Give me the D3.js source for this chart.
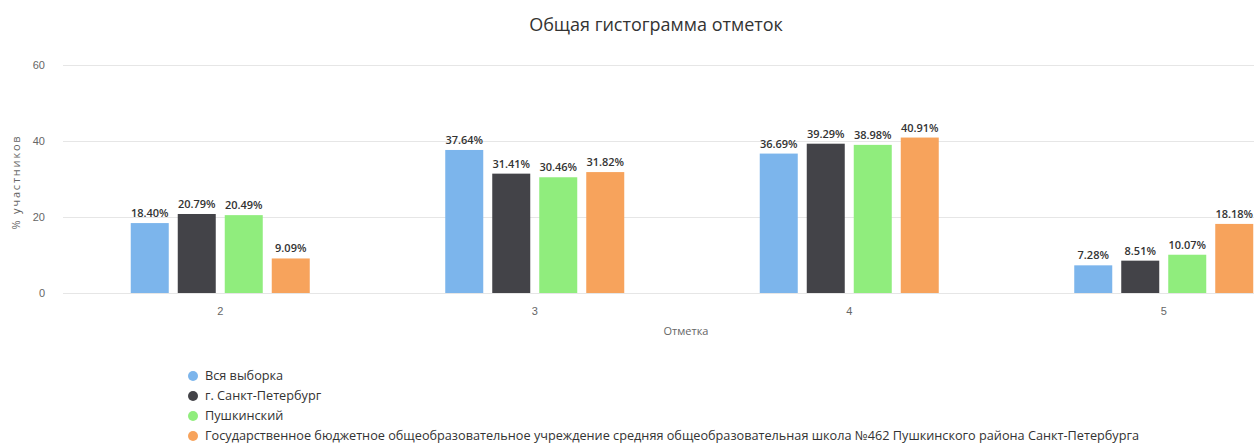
<!DOCTYPE html>
<html>
<head>
<meta charset="utf-8">
<script src="https://d3js.org/d3.v7.min.js"></script>
<style>
  body { margin: 0; background: #fff; }
  svg { display: block; font-family: "Open Sans", "DejaVu Sans", sans-serif; }
  .grid line { stroke: #e6e6e6; }
  .grid path { display: none; }
  .yaxis text, .xaxis text { fill: #666; font-size: 11px; }
  .yaxis path, .xaxis path, .xaxis line, .yaxis line { display: none; }
  .value { fill: #333; font-size: 11px; font-weight: 600; text-anchor: middle; }
  .legendtext { fill: #333; font-size: 12.7px; }
</style>
</head>
<body>
<svg id="chart" width="1254" height="448"></svg>
<script>
const categories = ['2', '3', '4', '5'];
const seriesNames = [
  'Вся выборка',
  'г. Санкт-Петербург',
  'Пушкинский',
  'Государственное бюджетное общеобразовательное учреждение средняя общеобразовательная школа №462 Пушкинского района Санкт-Петербурга'
];
const seriesColors = ['#7cb5ec', '#434348', '#90ed7d', '#f7a35c'];
const allSample = [18.40, 37.64, 36.69, 7.28];
const spb = [20.79, 31.41, 39.29, 8.51];
const pushkin = [20.49, 30.46, 38.98, 10.07];
const school = [9.09, 31.82, 40.91, 18.18];
const yTicks = [0, 20, 40, 60];

const seriesValues = [allSample, spb, pushkin, school];

let config = {
    left: 63,
    right: 1321,
    top: 65,
    bottom: 293,
}

const svg = d3.select('#chart');

const x = d3.scaleBand()
    .domain(categories)
    .range([config.left, config.right]);

const inner = d3.scaleBand()
    .domain(d3.range(seriesNames.length))
    .range([0, 4 * 47 - 9])
    .paddingInner(9 / 47);

const y = d3.scaleLinear()
    .domain([0, 60])
    .range([config.bottom, config.top]);

// gridlines
svg.append('g').classed('grid', true)
    .attr('transform', 'translate(' + config.left + ',0)')
    .call(d3.axisLeft(y).tickValues(yTicks).tickSize(-(config.right - config.left)).tickFormat(''));

svg.append('g').classed('yaxis', true)
    .attr('transform', 'translate(' + (config.left - 15) + ',0)')
    .call(d3.axisLeft(y).tickValues(yTicks).tickSize(0))
    .selectAll('text').attr('dy', '0.35em');

svg.append('g').classed('xaxis', true)
    .attr('transform', 'translate(0,' + (config.bottom + 11) + ')')
    .call(d3.axisBottom(x).tickSize(0));

// bars
const groupOffset = (x.bandwidth() - (4 * 47 - 9)) / 2;
const groups = svg.append('g').selectAll('g.series')
    .data(seriesValues)
    .join('g').classed('series', true)
    .attr('fill', (d, i) => seriesColors[i]);

groups.each(function(vals, si) {
    const g = d3.select(this);
    g.selectAll('rect')
        .data(vals)
        .join('rect')
        .attr('x', (d, ci) => x(categories[ci]) + groupOffset + inner(si))
        .attr('y', d => y(d))
        .attr('width', inner.bandwidth())
        .attr('height', d => y(0) - y(d));
    g.selectAll('text')
        .data(vals)
        .join('text')
        .classed('value', true)
        .attr('x', (d, ci) => x(categories[ci]) + groupOffset + inner(si) + inner.bandwidth() / 2)
        .attr('y', d => y(d) - 6)
        .text(d => d.toFixed(2) + '%');
});

// title & axis titles
svg.append('text')
    .attr('x', 656).attr('y', 31)
    .attr('text-anchor', 'middle')
    .style('font-size', '18px').style('fill', '#333')
    .text('Общая гистограмма отметок');

svg.append('text')
    .attr('x', 686).attr('y', 335)
    .attr('text-anchor', 'middle')
    .style('font-size', '11px').style('fill', '#666')
    .text('Отметка');

svg.append('text')
    .attr('transform', 'translate(20,182) rotate(-90)')
    .attr('text-anchor', 'middle')
    .style('font-size', '11px').style('fill', '#666').style('letter-spacing', '1.8px')
    .text('% участников');

// legend
const legend = svg.append('g').attr('transform', 'translate(193,376)');
const rows = legend.selectAll('g.legendrow')
    .data(seriesNames)
    .join('g').classed('legendrow', true)
    .attr('transform', (d, i) => 'translate(0,' + (20 * i) + ')');
rows.append('circle')
    .attr('r', 5)
    .attr('fill', (d, i) => seriesColors[i]);
rows.append('text')
    .classed('legendtext', true)
    .attr('x', 12)
    .attr('dy', '0.35em')
    .text(d => d);
</script>
</body>
</html>
